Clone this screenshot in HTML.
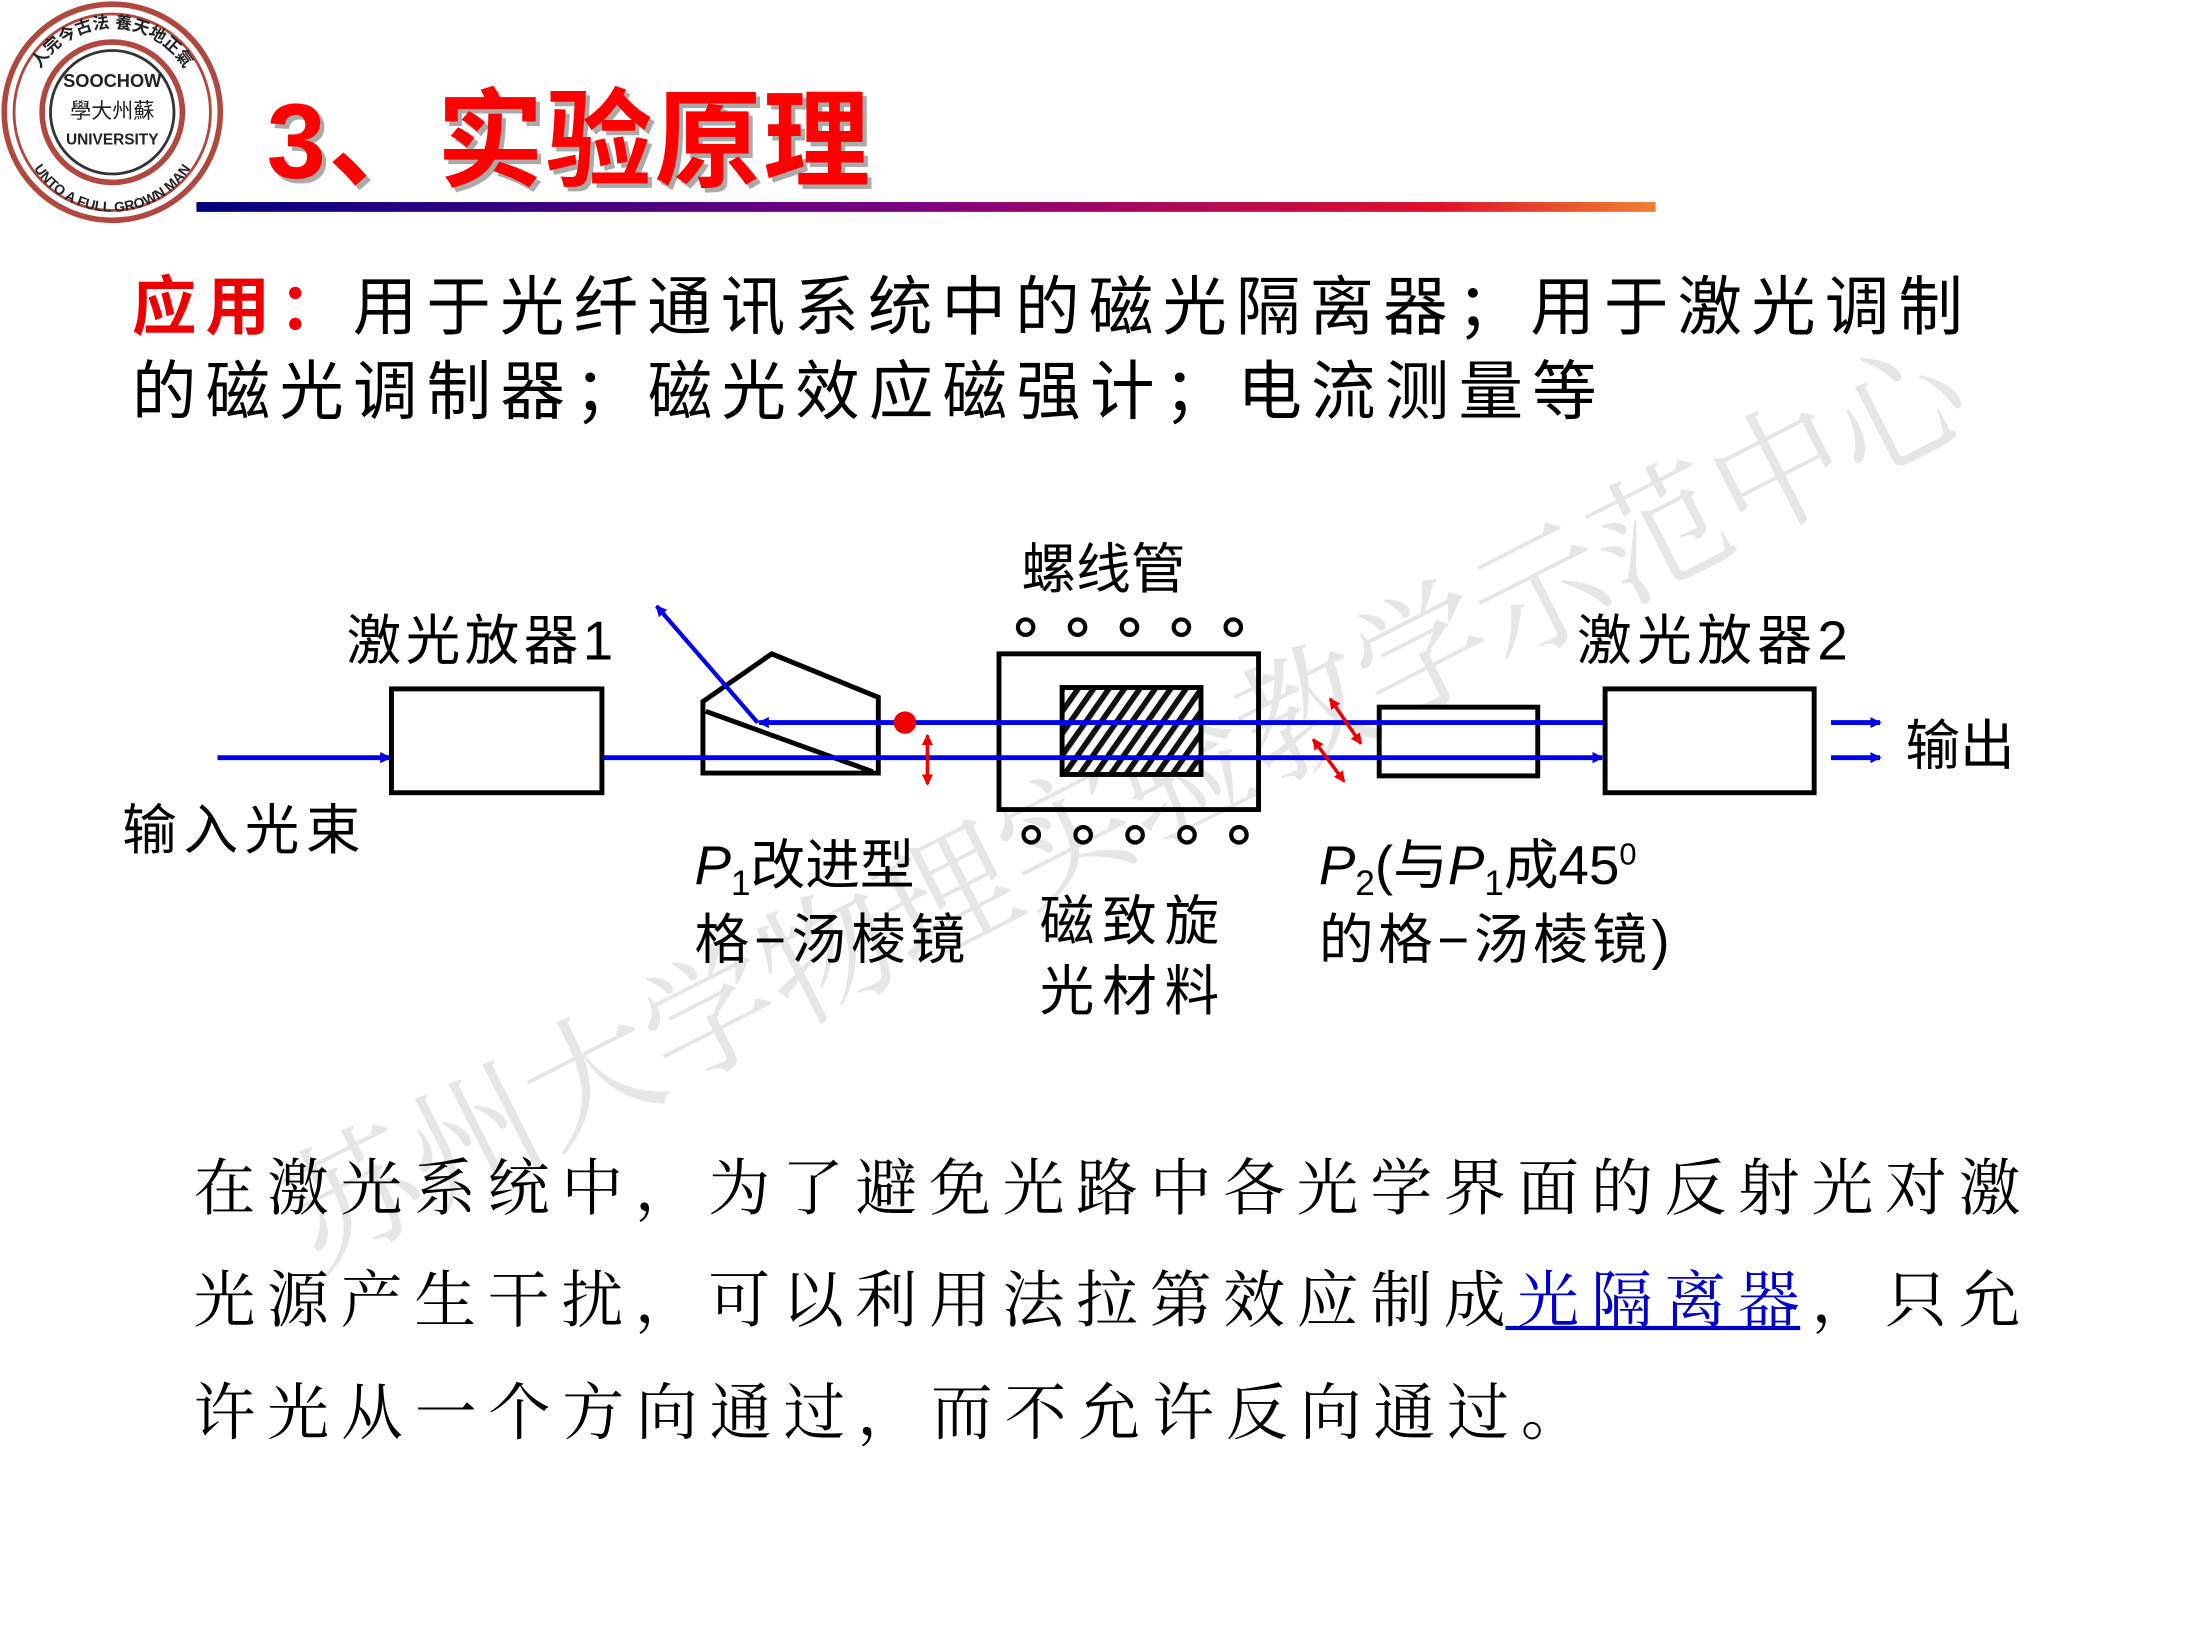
<!DOCTYPE html>
<html><head><meta charset="utf-8"><style>
html,body{margin:0;padding:0;background:#fff;width:2200px;height:1650px;overflow:hidden}
svg{display:block}
.s{font-family:"Liberation Sans","Noto Sans CJK SC",sans-serif}
.f{font-family:"Liberation Serif","Noto Serif CJK SC",serif}
</style></head><body>
<svg width="2200" height="1650" viewBox="0 0 1568 1176" preserveAspectRatio="none" xmlns="http://www.w3.org/2000/svg">
<defs>
<linearGradient id="g" x1="0" x2="1" y1="0" y2="0">
<stop offset="0" stop-color="#000080"/><stop offset="0.5" stop-color="#800080"/><stop offset="0.85" stop-color="#e0102a"/><stop offset="1" stop-color="#f08030"/>
</linearGradient>
<pattern id="h" width="9" height="9" patternUnits="userSpaceOnUse" patternTransform="rotate(35)">
<rect width="9" height="9" fill="#fff"/><rect width="4" height="9" fill="#111"/>
</pattern>
<marker id="ab" markerWidth="8" markerHeight="8" refX="7" refY="4" orient="auto" markerUnits="userSpaceOnUse"><path d="M0,0 L8,4 L0,8z" fill="#0000ee"/></marker>
<marker id="ar" markerWidth="8" markerHeight="8" refX="7" refY="4" orient="auto-start-reverse" markerUnits="userSpaceOnUse"><path d="M0,0 L8,4 L0,8z" fill="#ee0000"/></marker>
<path id="arc" d="M20,80 A60,60 0 0 1 140,80"/>
<path id="arc2" d="M14,85 A66,66 0 0 0 146,85"/>
</defs>
<text class="f" x="0" y="0" font-size="95" fill="#e6e6e6" transform="translate(225,905) rotate(-27)" textLength="1330">苏州大学物理实验教学示范中心</text>
<circle cx="80" cy="80" r="77" fill="#fff" stroke="#b04840" stroke-width="4"/>
<circle cx="80" cy="80" r="70" fill="none" stroke="#b04840" stroke-width="2"/>
<circle cx="80" cy="80" r="50" fill="none" stroke="#b04840" stroke-width="4"/>
<circle cx="80" cy="80" r="44" fill="none" stroke="#333" stroke-width="2"/>
<text class="s" x="80" y="62" font-size="13" font-weight="bold" text-anchor="middle" fill="#222">SOOCHOW</text>
<text class="s" x="80" y="84" font-size="15" text-anchor="middle" fill="#222">學大州蘇</text>
<text class="s" x="80" y="103" font-size="11" font-weight="bold" text-anchor="middle" fill="#222">UNIVERSITY</text>
<text class="s" font-size="12" font-weight="bold" fill="#222"><textPath href="#arc" startOffset="50%" text-anchor="middle">人完今古法 養天地正氣</textPath></text>
<text class="s" font-size="10" font-weight="bold" fill="#222"><textPath href="#arc2" startOffset="50%" text-anchor="middle">UNTO A FULL GROWN MAN</textPath></text>
<text class="s" x="190" y="127" font-size="76" font-weight="bold" fill="#aaa" transform="translate(3,3)" textLength="430">3、实验原理</text>
<text class="s" x="190" y="127" font-size="76" font-weight="bold" fill="#ff0000" textLength="430">3、实验原理</text>
<rect x="140" y="144" width="1040" height="7" fill="url(#g)"/>
<text class="s" x="94" y="235" font-size="46" textLength="1305"><tspan fill="#ee0000" font-weight="bold">应用：</tspan><tspan fill="#000">用于光纤通讯系统中的磁光隔离器；用于激光调制</tspan></text>
<text class="s" x="94" y="295" font-size="46" fill="#000" textLength="1044">的磁光调制器；磁光效应磁强计；电流测量等</text>
<g fill="none" stroke="#000" stroke-width="3.5">
<rect x="279" y="491" width="150" height="74"/>
<rect x="1144" y="491" width="149" height="74"/>
<rect x="712" y="466" width="185" height="111"/>
<rect x="983" y="504" width="113" height="49"/>
<polygon points="501,500 550,466 626,497 626,551 501,551"/>
<line x1="503" y1="507" x2="622" y2="550"/>
</g>
<rect x="757" y="490" width="99" height="62" fill="url(#h)" stroke="#000" stroke-width="3.5"/>
<g fill="#fff" stroke="#000" stroke-width="3">
<circle cx="731" cy="447" r="5.5"/><circle cx="768" cy="447" r="5.5"/><circle cx="805" cy="447" r="5.5"/><circle cx="842" cy="447" r="5.5"/><circle cx="879" cy="447" r="5.5"/>
<circle cx="735" cy="595" r="5.5"/><circle cx="772" cy="595" r="5.5"/><circle cx="809" cy="595" r="5.5"/><circle cx="846" cy="595" r="5.5"/><circle cx="883" cy="595" r="5.5"/>
</g>
<g stroke="#0000ee" stroke-width="3.5" fill="none">
<line x1="155" y1="540" x2="278" y2="540" marker-end="url(#ab)"/>
<line x1="430" y1="540" x2="1142" y2="540" marker-end="url(#ab)"/>
<line x1="1143" y1="515" x2="541" y2="515" marker-end="url(#ab)"/>
<line x1="540" y1="515" x2="468" y2="432" stroke-width="3" marker-end="url(#ab)"/>
<line x1="1305" y1="515" x2="1340" y2="515" marker-end="url(#ab)"/>
<line x1="1305" y1="540" x2="1340" y2="540" marker-end="url(#ab)"/>
</g>
<circle cx="645" cy="515" r="8" fill="#ee0000"/>
<g stroke="#ee0000" stroke-width="2.5">
<line x1="661" y1="524" x2="661" y2="559" marker-start="url(#ar)" marker-end="url(#ar)"/>
<line x1="948" y1="498" x2="970" y2="530" marker-start="url(#ar)" marker-end="url(#ar)"/>
<line x1="936" y1="527" x2="958" y2="557" marker-start="url(#ar)" marker-end="url(#ar)"/>
</g>
<g class="s" font-size="39" fill="#000">
<text x="728" y="419">螺线管</text>
<text x="247" y="470" textLength="190">激光放器1</text>
<text x="1124" y="470" textLength="193">激光放器2</text>
<text x="1358" y="545">输出</text>
<text x="87" y="605" textLength="170">输入光束</text>
<text x="495" y="630"><tspan font-style="italic">P</tspan><tspan font-size="25" dy="8">1</tspan><tspan dy="-8">改进型</tspan></text>
<text x="495" y="683" textLength="193">格−汤棱镜</text>
<text x="741" y="670" textLength="128">磁致旋</text>
<text x="741" y="720" textLength="128">光材料</text>
<text x="940" y="630"><tspan font-style="italic">P</tspan><tspan font-size="25" dy="8">2</tspan><tspan dy="-8">(与</tspan><tspan font-style="italic">P</tspan><tspan font-size="25" dy="8">1</tspan><tspan dy="-8">成45</tspan><tspan font-size="22" dy="-14">0</tspan></text>
<text x="940" y="683" textLength="250">的格−汤棱镜)</text>
</g>
<g class="f" font-size="44" fill="#000">
<text x="138" y="862" textLength="1302">在激光系统中，为了避免光路中各光学界面的反射光对激</text>
<text x="138" y="942" textLength="1302">光源产生干扰，可以利用法拉第效应制成<tspan fill="#0000cc">光隔离器</tspan>，只允</text>
<text x="138" y="1022" textLength="990">许光从一个方向通过，而不允许反向通过。</text>
</g>
<rect x="1073" y="945" width="210" height="3" fill="#0000cc"/>
</svg>
</body></html>
